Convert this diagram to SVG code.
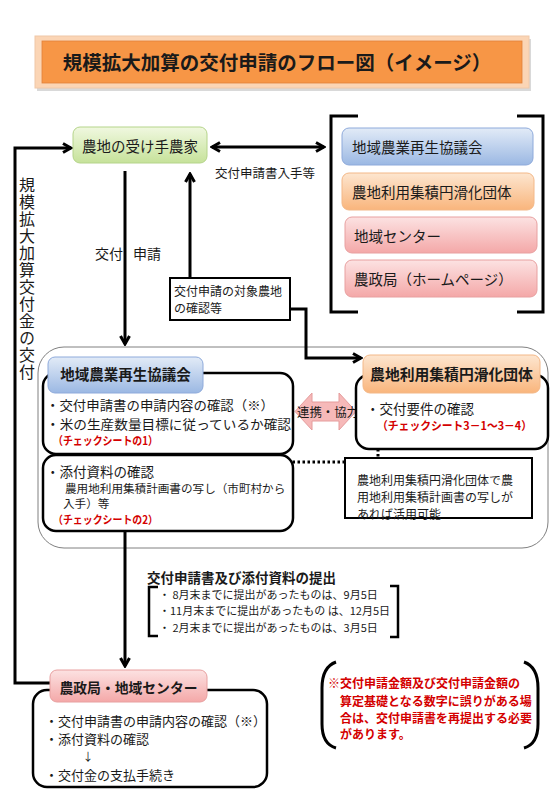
<svg xmlns="http://www.w3.org/2000/svg" width="554" height="800" viewBox="0 0 554 800">
<defs>
<linearGradient id="gGreen" x1="0" y1="0" x2="0" y2="1"><stop offset="0" stop-color="#f0f8e0"/><stop offset="1" stop-color="#c6e29a"/></linearGradient>
<linearGradient id="gBlue" x1="0" y1="0" x2="0" y2="1"><stop offset="0" stop-color="#e2ebf7"/><stop offset="1" stop-color="#9bb8e3"/></linearGradient>
<linearGradient id="gOrange" x1="0" y1="0" x2="0" y2="1"><stop offset="0" stop-color="#fde6d0"/><stop offset="1" stop-color="#f9b57c"/></linearGradient>
<linearGradient id="gPink" x1="0" y1="0" x2="0" y2="1"><stop offset="0" stop-color="#fce2e2"/><stop offset="1" stop-color="#f4a8a8"/></linearGradient>
<marker id="arr" viewBox="0 0 12 12" refX="10" refY="6" markerWidth="12" markerHeight="12" markerUnits="userSpaceOnUse" orient="auto-start-reverse">
<path d="M2,1.5 L10,6 L2,10.5" fill="none" stroke="#000" stroke-width="3" stroke-linejoin="miter"/>
</marker>
<marker id="arrS" viewBox="0 0 10 10" refX="8" refY="5" markerWidth="9" markerHeight="9" markerUnits="userSpaceOnUse" orient="auto">
<path d="M2,1.5 L8,5 L2,8.5" fill="none" stroke="#000" stroke-width="2.5"/>
</marker>
</defs>
<style>
text{font-family:"Noto Sans CJK JP","Noto Sans CJK SC",sans-serif;fill:#1a1a1a;dominant-baseline:central}
.b{font-weight:bold}
.red{fill:#d40000;font-weight:bold}
.node{stroke-width:1}
.box{fill:#fff;stroke:#000;stroke-width:2.5}
.line{fill:none;stroke:#000;stroke-width:3}
.dot{fill:none;stroke:#000;stroke-width:3;stroke-dasharray:2.5 2.5}
</style>
<rect width="554" height="800" fill="#fff"/>

<g id="title">
<rect x="37" y="39" width="494" height="52" fill="#bfbfbf" opacity="0.6"/>
<rect x="35" y="36" width="494" height="52" fill="#fbd5b5" stroke="#f0c8a8" stroke-width="1"/>
<rect x="42" y="41" width="480" height="42" fill="#f79646" stroke="#e0803a" stroke-width="0.8"/>
<text x="277" y="61" text-anchor="middle" class="b" font-size="19.5">規模拡大加算の交付申請のフロー図（イメージ）</text>
</g>

<g id="region">
<rect x="38" y="347" width="510" height="201" rx="26" fill="none" stroke="#808080" stroke-width="1"/>
</g>

<g id="connectors">
<path class="line" d="M50,683 L15,683 L15,148 L71,148" marker-end="url(#arr)"/>
<path class="line" d="M212,147 L324,147" marker-start="url(#arr)" marker-end="url(#arr)"/>
<path class="line" d="M125,171 L125,344" marker-end="url(#arr)"/>
<path class="line" d="M190,278 L190,174" marker-end="url(#arr)"/>
<path class="line" d="M290,309 L306,309 L306,358 L361,358" marker-end="url(#arr)"/>
<path class="line" d="M125,531 L125,666" marker-end="url(#arr)"/>
<path class="dot" d="M378,449 L378,458"/>
<path class="dot" d="M345,462 L190,462 L190,470" marker-end="url(#arrS)"/>
<polygon points="295,411.5 312,393 312,402 339,402 339,393 356,411.5 339,430 339,421 312,421 312,430" fill="#f6b9b9" stroke="#e59c9c" stroke-width="1"/>
<text x="297" y="411" font-size="12.5" textLength="62" lengthAdjust="spacingAndGlyphs">連携・協力</text>
<text x="215" y="172" font-size="12.5">交付申請書入手等</text>
<text x="95" y="253" font-size="14">交付</text>
<text x="133" y="253" font-size="14">申請</text>
<text x="27" y="177" font-size="16" writing-mode="vertical-rl" letter-spacing="1">規模拡大加算交付金の交付</text>
</g>

<g id="farmer">
<rect x="73" y="127" width="134" height="36" rx="7" fill="url(#gGreen)" stroke="#b5d48a" class="node"/>
<text x="140" y="145" text-anchor="middle" font-size="14.5">農地の受け手農家</text>
</g>

<g id="sources">
<path class="line" d="M358,116 L331,116 L331,312 L358,312"/>
<path class="line" d="M517,116 L543,116 L543,312 L517,312"/>
<rect x="342" y="128" width="191" height="37" rx="7" fill="url(#gBlue)" stroke="#8eaadb" class="node"/>
<text x="352" y="146" font-size="14.5">地域農業再生協議会</text>
<rect x="342" y="173" width="192" height="37" rx="7" fill="url(#gOrange)" stroke="#f3b888" class="node"/>
<text x="352" y="191" font-size="14.5">農地利用集積円滑化団体</text>
<rect x="345" y="217" width="192" height="36" rx="7" fill="url(#gPink)" stroke="#e8a0a0" class="node"/>
<text x="354" y="235" font-size="14.5">地域センター</text>
<rect x="345" y="260" width="192" height="37" rx="7" fill="url(#gPink)" stroke="#e8a0a0" class="node"/>
<text x="354" y="278" font-size="14.5">農政局（ホームページ）</text>
</g>

<g id="confirm-target">
<rect x="170" y="278" width="120" height="42" fill="#fff" stroke="#000" stroke-width="2"/>
<text x="174" y="290" font-size="12">交付申請の対象農地</text>
<text x="174" y="307" font-size="12">の確認等</text>
</g>

<g id="council">
<rect x="43" y="373" width="250" height="81" rx="13" class="box"/>
<rect x="48" y="357" width="155" height="36" rx="7" fill="url(#gBlue)" stroke="#8eaadb" class="node"/>
<text x="125.5" y="373" text-anchor="middle" class="b" font-size="14.5">地域農業再生協議会</text>
<text x="46" y="404" font-size="13" textLength="228" lengthAdjust="spacingAndGlyphs">・交付申請書の申請内容の確認（※）</text>
<text x="46" y="423" font-size="13" textLength="245" lengthAdjust="spacingAndGlyphs">・米の生産数量目標に従っているか確認</text>
<text x="53" y="440" class="red" font-size="11.5" textLength="105" lengthAdjust="spacingAndGlyphs">（チェックシートの1）</text>
</g>

<g id="attachments">
<rect x="43" y="455" width="250" height="76" rx="13" class="box"/>
<text x="46" y="471" font-size="13.5">・添付資料の確認</text>
<text x="65" y="488" font-size="11.6">農用地利用集積計画書の写し（市町村から</text>
<text x="63" y="503" font-size="11.6">入手）等</text>
<text x="53" y="519" class="red" font-size="11" textLength="105" lengthAdjust="spacingAndGlyphs">（チェックシートの2）</text>
</g>

<g id="farmland-org">
<rect x="356" y="375" width="192" height="74" rx="13" class="box"/>
<rect x="363" y="355" width="177" height="38" rx="7" fill="url(#gOrange)" stroke="#f3b888" class="node"/>
<text x="451.5" y="373" text-anchor="middle" class="b" font-size="14.8">農地利用集積円滑化団体</text>
<text x="366" y="408" font-size="13.5">・交付要件の確認</text>
<text x="377" y="425" class="red" font-size="11.5" textLength="155" lengthAdjust="spacingAndGlyphs">（チェックシート3－1～3－4）</text>
</g>

<g id="note">
<rect x="345" y="458" width="187" height="60" fill="#fff" stroke="#000" stroke-width="2"/>
<text x="357" y="479" font-size="12">農地利用集積円滑化団体で農</text>
<text x="357" y="496" font-size="12">用地利用集積計画書の写しが</text>
<text x="357" y="513" font-size="12">あれば活用可能</text>
</g>

<g id="submission">
<text x="147" y="577" class="b" font-size="13.5">交付申請書及び添付資料の提出</text>
<path d="M158,587 L149,587 L149,636 L158,636" fill="none" stroke="#000" stroke-width="2.5"/>
<path d="M390,586 L398,586 L398,637 L390,637" fill="none" stroke="#000" stroke-width="2.5"/>
<text x="159" y="594" font-size="11">・ 8月末までに提出があったものは、9月5日</text>
<text x="159" y="610" font-size="11">・11月末までに提出があったもの は、12月5日</text>
<text x="159" y="627" font-size="11">・ 2月末までに提出があったものは、3月5日</text>
</g>

<g id="agri-bureau">
<rect x="33" y="690" width="234" height="97" rx="14" class="box"/>
<rect x="50" y="670" width="157" height="32" rx="7" fill="url(#gPink)" stroke="#e8a0a0" class="node"/>
<text x="128.5" y="687" text-anchor="middle" class="b" font-size="13.8">農政局・地域センター</text>
<text x="45" y="720" font-size="13">・交付申請書の申請内容の確認（※）</text>
<text x="45" y="738" font-size="13">・添付資料の確認</text>
<text x="88" y="756" font-size="11" text-anchor="middle">↓</text>
<text x="45" y="774" font-size="13">・交付金の支払手続き</text>
</g>

<g id="warning">
<path d="M336,662 Q322,667 322,688 L322,724 Q322,744 336,748" fill="none" stroke="#000" stroke-width="3"/>
<path d="M524,662 Q538,667 538,688 L538,724 Q538,744 524,748" fill="none" stroke="#000" stroke-width="3"/>
<text x="328" y="682" class="red" font-size="12">※交付申請金額及び交付申請金額の</text>
<text x="340" y="700" class="red" font-size="12">算定基礎となる数字に誤りがある場</text>
<text x="340" y="717" class="red" font-size="12">合は、交付申請書を再提出する必要</text>
<text x="340" y="733" class="red" font-size="12">があります。</text>
</g>
</svg>
